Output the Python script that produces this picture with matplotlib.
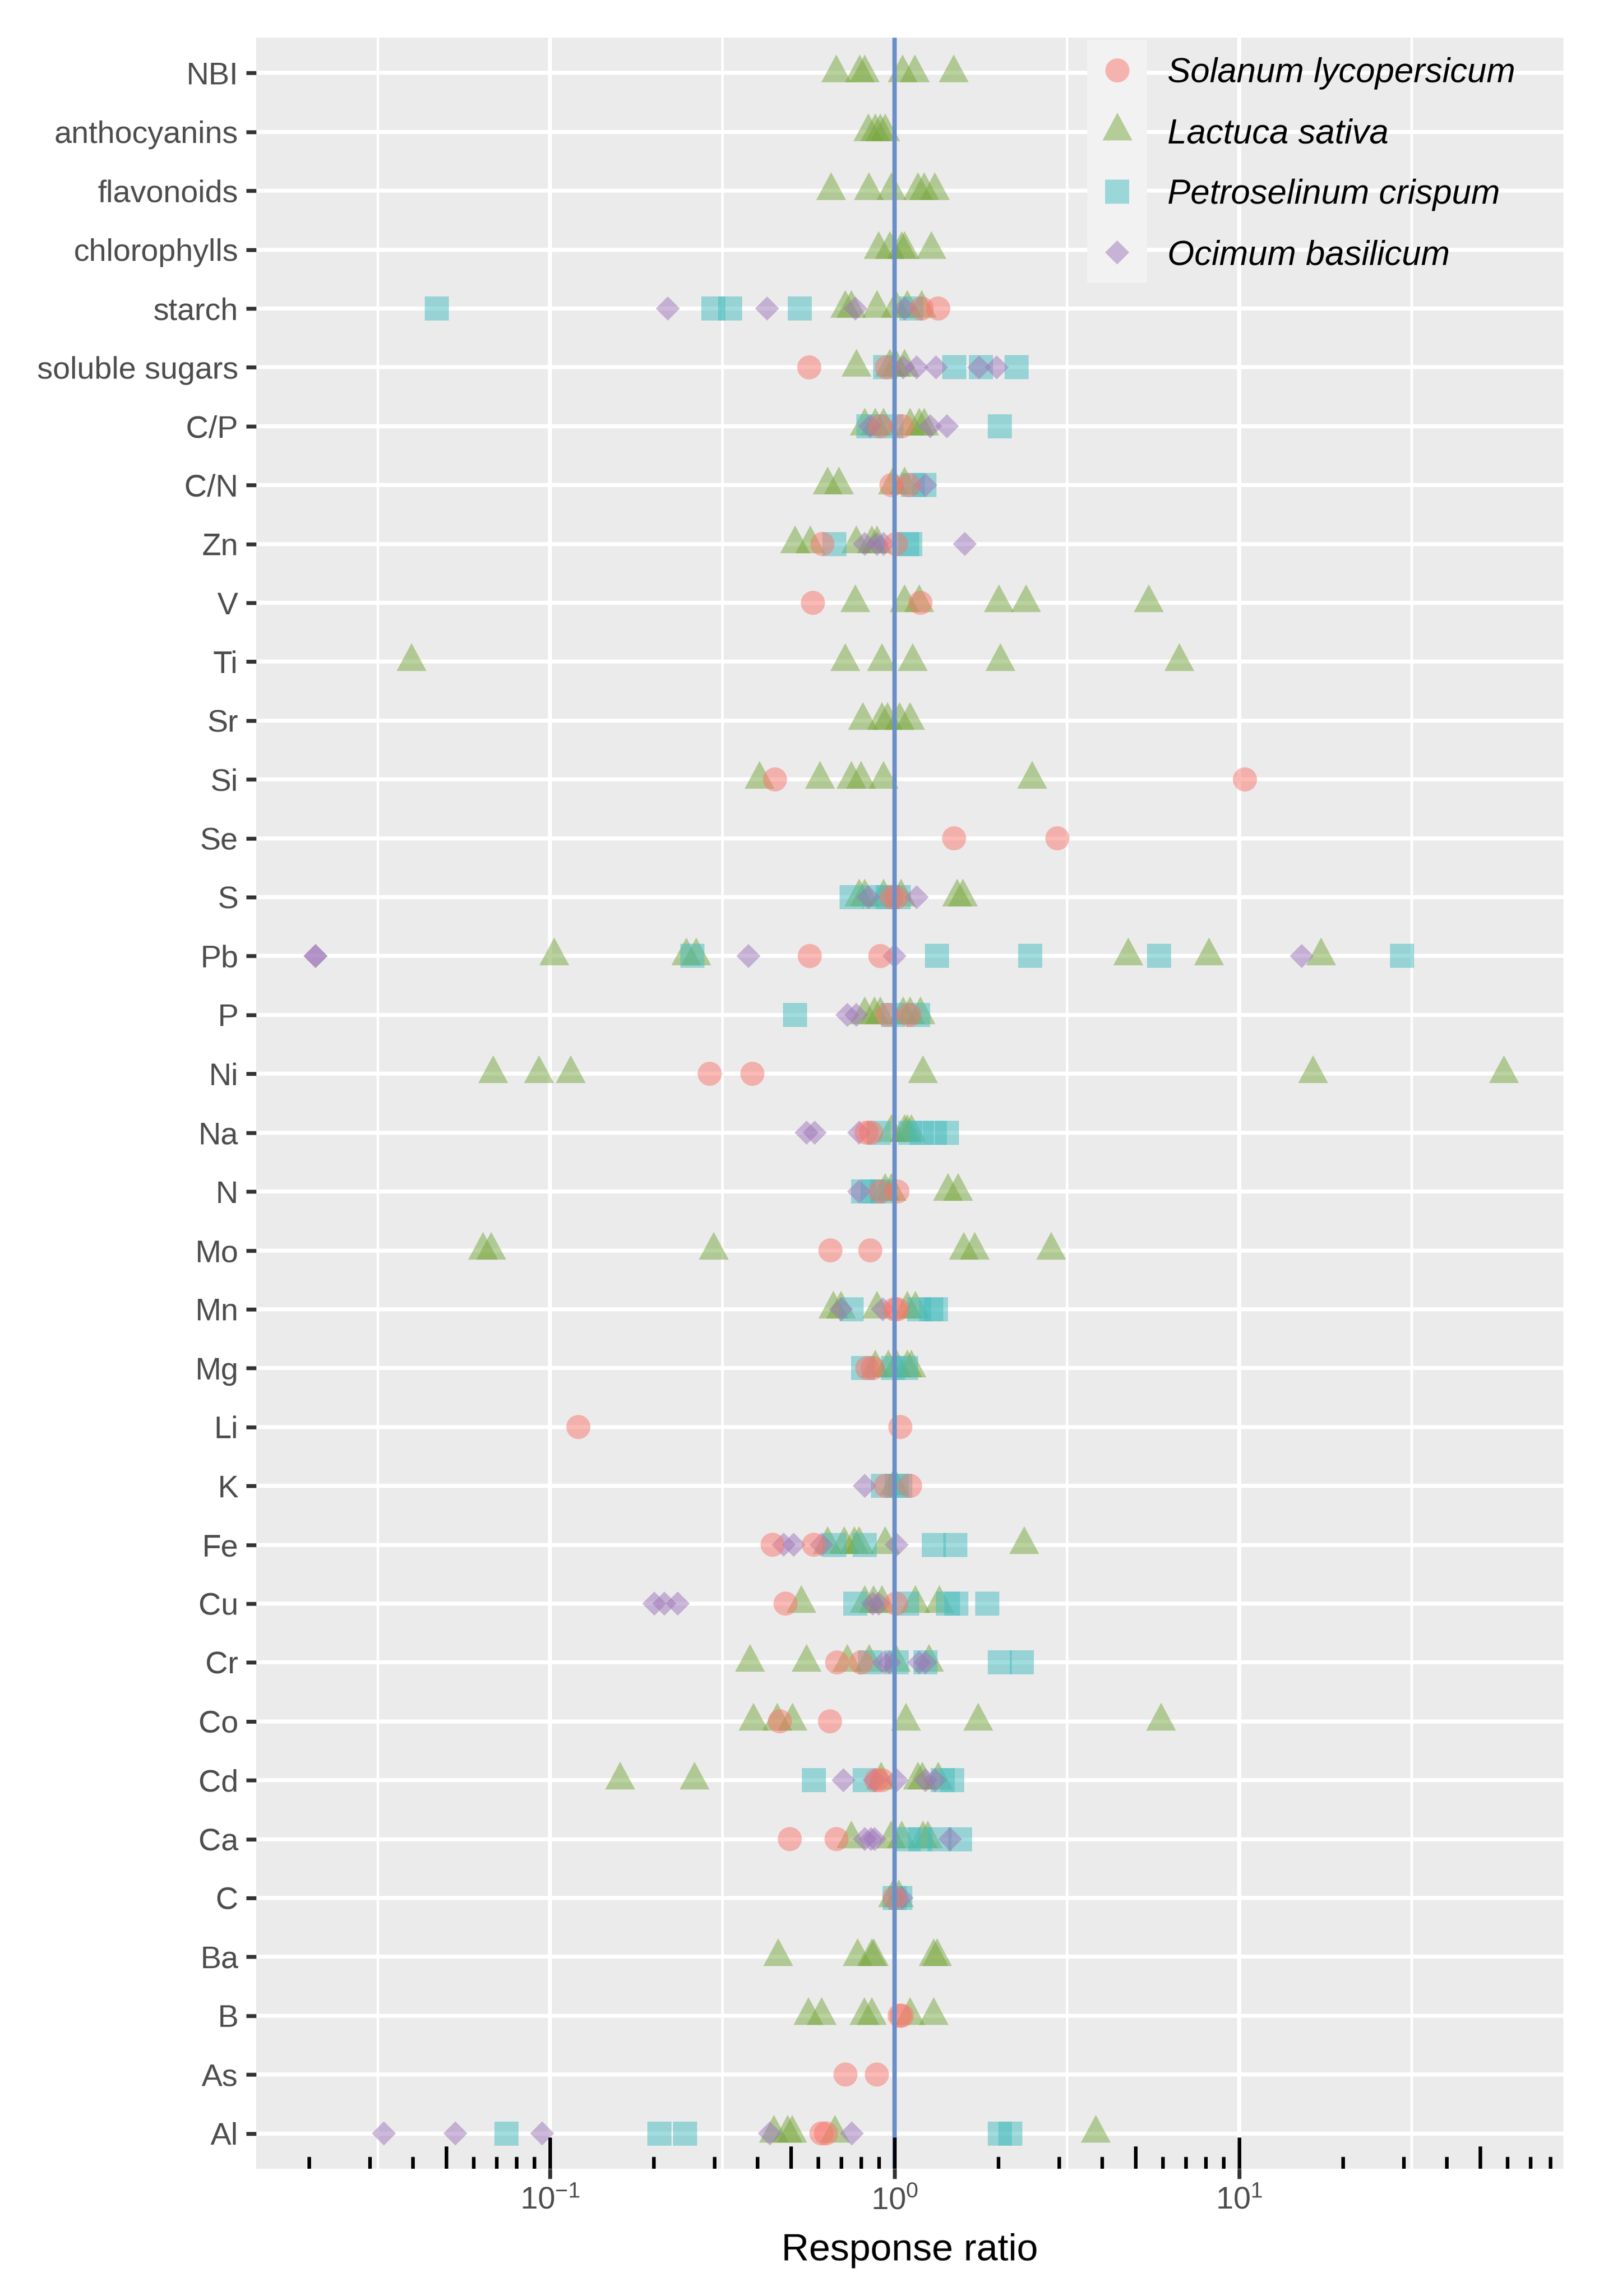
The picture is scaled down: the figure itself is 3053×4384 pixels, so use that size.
import matplotlib.pyplot as plt
import numpy as np
from matplotlib.patches import Rectangle
from matplotlib.lines import Line2D
from matplotlib.ticker import FixedLocator, NullFormatter

plt.rcParams['font.family'] = ['Liberation Sans', 'DejaVu Sans']
plt.rcParams['mathtext.fontset'] = 'custom'
plt.rcParams['mathtext.rm'] = 'Liberation Sans'
plt.rcParams['mathtext.it'] = 'Liberation Sans:italic'

# categorias do eixo y (de baixo para cima)
categorias = ['Al', 'As', 'B', 'Ba', 'C', 'Ca', 'Cd', 'Co', 'Cr', 'Cu', 'Fe', 'K',
              'Li', 'Mg', 'Mn', 'Mo', 'N', 'Na', 'Ni', 'P', 'Pb', 'S', 'Se', 'Si',
              'Sr', 'Ti', 'V', 'Zn', 'C/N', 'C/P', 'soluble sugars', 'starch',
              'chlorophylls', 'flavonoids', 'anthocyanins', 'NBI']

especies = ['Solanum lycopersicum', 'Lactuca sativa', 'Petroselinum crispum', 'Ocimum basilicum']

# response ratio por especie
solanum = {
    'starch': [1.20, 1.34], 'soluble sugars': [0.566, 0.95], 'C/P': [0.91, 1.05],
    'C/N': [0.98, 1.10], 'Zn': [0.618, 1.01], 'V': [0.58, 1.19], 'Si': [0.45, 10.4],
    'Se': [1.49, 2.97], 'S': [0.98, 1.015], 'Pb': [0.568, 0.91], 'P': [0.955, 1.105],
    'Ni': [0.291, 0.387], 'Na': [0.83, 0.855], 'N': [0.91, 1.02], 'Mo': [0.652, 0.851],
    'Mn': [1.0, 1.02], 'Mg': [0.834, 0.865], 'Li': [0.121, 1.04], 'K': [0.943, 1.11],
    'Fe': [0.443, 0.584], 'Cu': [0.483, 1.01], 'Cr': [0.682, 0.80], 'Co': [0.465, 0.65],
    'Cd': [0.887, 0.92], 'Ca': [0.497, 0.679], 'C': [1.0], 'B': [1.035, 1.05],
    'As': [0.721, 0.889], 'Al': [0.614, 0.633],
}

lactuca = {
    'NBI': [0.678, 0.793, 0.820, 1.056, 1.146, 1.486],
    'anthocyanins': [0.84, 0.88, 0.91, 0.94],
    'flavonoids': [0.655, 0.843, 0.98, 1.17, 1.22, 1.31],
    'chlorophylls': [0.90, 0.97, 1.05, 1.07, 1.28],
    'starch': [0.72, 0.75, 0.89, 1.01, 1.09, 1.20],
    'soluble sugars': [0.776, 0.97, 1.01, 1.07],
    'C/P': [0.82, 0.88, 0.93, 1.11, 1.18, 1.22],
    'C/N': [0.64, 0.69, 0.99, 1.07],
    'Zn': [0.515, 0.57, 0.775, 0.86, 0.89],
    'V': [0.77, 1.07, 1.18, 2.01, 2.41, 5.47],
    'Ti': [0.0397, 0.72, 0.92, 1.13, 2.03, 6.71],
    'Sr': [0.81, 0.92, 0.955, 1.035, 1.11],
    'Si': [0.406, 0.608, 0.75, 0.80, 0.93, 2.51],
    'S': [0.79, 0.82, 0.93, 1.045, 1.52, 1.58],
    'Pb': [0.103, 0.249, 0.266, 4.77, 8.18, 17.3],
    'P': [0.82, 0.875, 0.91, 1.06, 1.11, 1.19],
    'Ni': [0.0685, 0.093, 0.115, 1.21, 16.4, 58.7],
    'Na': [0.98, 1.07, 1.09, 1.12],
    'N': [0.94, 0.98, 1.43, 1.53],
    'Mo': [0.064, 0.0676, 0.299, 1.59, 1.71, 2.85],
    'Mn': [0.665, 0.70, 0.89, 1.09, 1.15],
    'Mg': [0.88, 0.96, 1.015, 1.09, 1.12],
    'K': [1.0],
    'Fe': [0.64, 0.715, 0.765, 0.79, 0.94, 2.38],
    'Cu': [0.537, 0.82, 0.87, 0.92, 1.15, 1.35],
    'Cr': [0.381, 0.556, 0.73, 0.845, 1.01, 1.26],
    'Co': [0.39, 0.457, 0.506, 1.08, 1.75, 5.94],
    'Cd': [0.16, 0.263, 0.915, 1.17, 1.205, 1.34],
    'Ca': [0.75, 0.978, 1.05, 1.21, 1.25],
    'C': [0.99, 1.03],
    'Ba': [0.46, 0.782, 0.86, 0.871, 1.30, 1.33],
    'B': [0.563, 0.615, 0.818, 0.86, 1.11, 1.30],
    'Al': [0.447, 0.49, 0.505, 0.672, 3.84],
}

petroselinum = {
    'starch': [0.047, 0.298, 0.333, 0.532, 1.12],
    'soluble sugars': [0.94, 1.49, 1.78, 2.26],
    'C/P': [0.84, 0.98, 2.02],
    'C/N': [1.13, 1.22],
    'Zn': [0.67, 1.09, 1.11],
    'S': [0.75, 0.875, 0.955, 1.03],
    'Pb': [0.259, 1.33, 2.48, 5.85, 29.7],
    'P': [0.515, 0.99, 1.17],
    'Na': [0.90, 1.11, 1.20, 1.31, 1.42],
    'N': [0.81, 0.865, 0.92],
    'Mn': [0.75, 1.18, 1.28, 1.32],
    'Mg': [0.81, 0.99, 1.08],
    'K': [0.925, 1.015, 1.04],
    'Fe': [0.67, 0.82, 1.30, 1.50],
    'Cu': [0.77, 1.09, 1.43, 1.51, 1.86],
    'Cr': [0.85, 1.015, 1.23, 2.02, 2.34],
    'Cd': [0.584, 0.82, 1.38, 1.47],
    'Ca': [1.10, 1.19, 1.35, 1.55],
    'C': [1.0, 1.04],
    'Al': [0.0748, 0.208, 0.247, 2.02, 2.17],
}

ocimum = {
    'starch': [0.22, 0.427, 0.77, 1.07],
    'soluble sugars': [1.06, 1.16, 1.32, 1.76, 1.98],
    'C/P': [0.85, 1.27, 1.42],
    'C/N': [1.23],
    'Zn': [0.82, 0.89, 0.93, 1.60],
    'S': [0.84, 1.16],
    'Pb': [0.0209, 0.0209, 0.377, 1.0, 15.2],
    'P': [0.73, 0.775],
    'Na': [0.556, 0.587, 0.79],
    'N': [0.79],
    'Mn': [0.70, 0.925],
    'K': [0.82],
    'Fe': [0.477, 0.51, 0.614, 1.015],
    'Cu': [0.201, 0.215, 0.235, 0.865, 0.90],
    'Cr': [0.93, 0.966, 1.18, 1.23],
    'Cd': [0.711, 0.876, 1.015, 1.23, 1.31],
    'Ca': [0.82, 0.855, 0.876, 1.45],
    'C': [1.05],
    'Al': [0.033, 0.0532, 0.095, 0.435, 0.752],
}

W, H = 3053, 4384
px = 72 / 500  # 1 pixel em pontos
top, bot = 72, 4141  # bordas do painel em pixels
esq, dir_ = 489, 2985

cores = ['#F8766D', '#77A73D', '#45BDBF', '#9D75B9']
tri = [(0, 0.62), (-0.5, -0.31), (0.5, -0.31), (0, 0.62)]
marcadores = ['o', tri, 's', 'D']
tamanhos = [46 * px, 70.7 * px, 46 * px, 32.5 * px]
dados = [solanum, lactuca, petroselinum, ocimum]

fig = plt.figure(figsize=(W / 500, H / 500), dpi=500)
ax = fig.add_axes([esq / W, 1 - bot / H, (dir_ - esq) / W, (bot - top) / H])
ax.set_facecolor('#EBEBEB')
for s in ax.spines.values():
    s.set_visible(False)

# ordem de desenho: Lactuca, Petroselinum, Ocimum, Solanum
for i in [1, 2, 3, 0]:
    xs, ys = [], []
    for cat, vals in dados[i].items():
        for v in vals:
            xs.append(v)
            ys.append(categorias.index(cat))
    ax.scatter(xs, ys, marker=marcadores[i], s=tamanhos[i] ** 2, color=cores[i],
               alpha=0.5, edgecolors='none', linewidths=0, zorder=3)

ax.set_xscale('log')
todos = np.concatenate([np.array(v) for d in dados for v in d.values()])
lo, hi = np.log10(todos.min()), np.log10(todos.max())
pad = 0.05 * (hi - lo)
ax.set_xlim(10 ** (lo - pad), 10 ** (hi + pad))
ax.set_ylim(-0.6, len(categorias) - 0.4)

ax.set_yticks(range(len(categorias)))
ax.set_yticklabels(categorias)
ax.set_xticks([0.1, 1, 10])
ax.set_xticklabels([r'$10^{-1}$', r'$10^{0}$', r'$10^{1}$'])
ax.xaxis.set_minor_locator(FixedLocator(10 ** np.array([-1.5, -0.5, 0.5, 1.5])))
ax.xaxis.set_minor_formatter(NullFormatter())
ax.yaxis.set_minor_locator(FixedLocator([]))

ax.set_axisbelow(True)
ax.grid(which='major', color='white', lw=1.1)
ax.grid(which='minor', axis='x', color='white', lw=0.7)
ax.tick_params(which='major', length=2.75, width=1.07, color='#333333',
               labelsize=8.6, labelcolor='#4D4D4D', pad=2.2)
ax.tick_params(which='minor', length=0)

# linha de referencia em 1
ax.axvline(1, color='#6A8EC8', lw=1.2, zorder=4)

# logticks na base do painel
alt = bot - top
xt, lt = [], []
for k in range(-3, 3):
    for m in range(1, 10):
        v = m * 10.0 ** k
        if lo - pad <= np.log10(v) <= hi + pad:
            xt.append(v)
            lt.append(60 / alt if m == 1 else (43 / alt if m == 5 else 23 / alt))
ax.vlines(xt, 0, lt, transform=ax.get_xaxis_transform(), color='black', lw=1.0, zorder=5)

# titulo do eixo x
fig.text((esq + dir_) / 2 / W, 1 - 4316 / H, 'Response ratio', fontsize=10.5,
         ha='center', va='baseline', color='black')

# legenda
fig.patches.append(Rectangle((2076 / W, 1 - 540 / H), 114 / W, 464 / H,
                             transform=fig.transFigure, facecolor='#F2F2F2',
                             edgecolor='none', zorder=1))
for i, yk in enumerate([134, 250, 366, 482]):
    fig.add_artist(Line2D([2133 / W], [1 - yk / H], marker=marcadores[i],
                          markersize=tamanhos[i], color=cores[i], alpha=0.5,
                          markeredgewidth=0, linestyle='none',
                          transform=fig.transFigure, zorder=2))
    fig.text(2229 / W, 1 - (yk + 23) / H, especies[i], fontsize=9.5, style='italic',
             va='baseline', ha='left', color='black')

fig.savefig('out.png', dpi=500)
